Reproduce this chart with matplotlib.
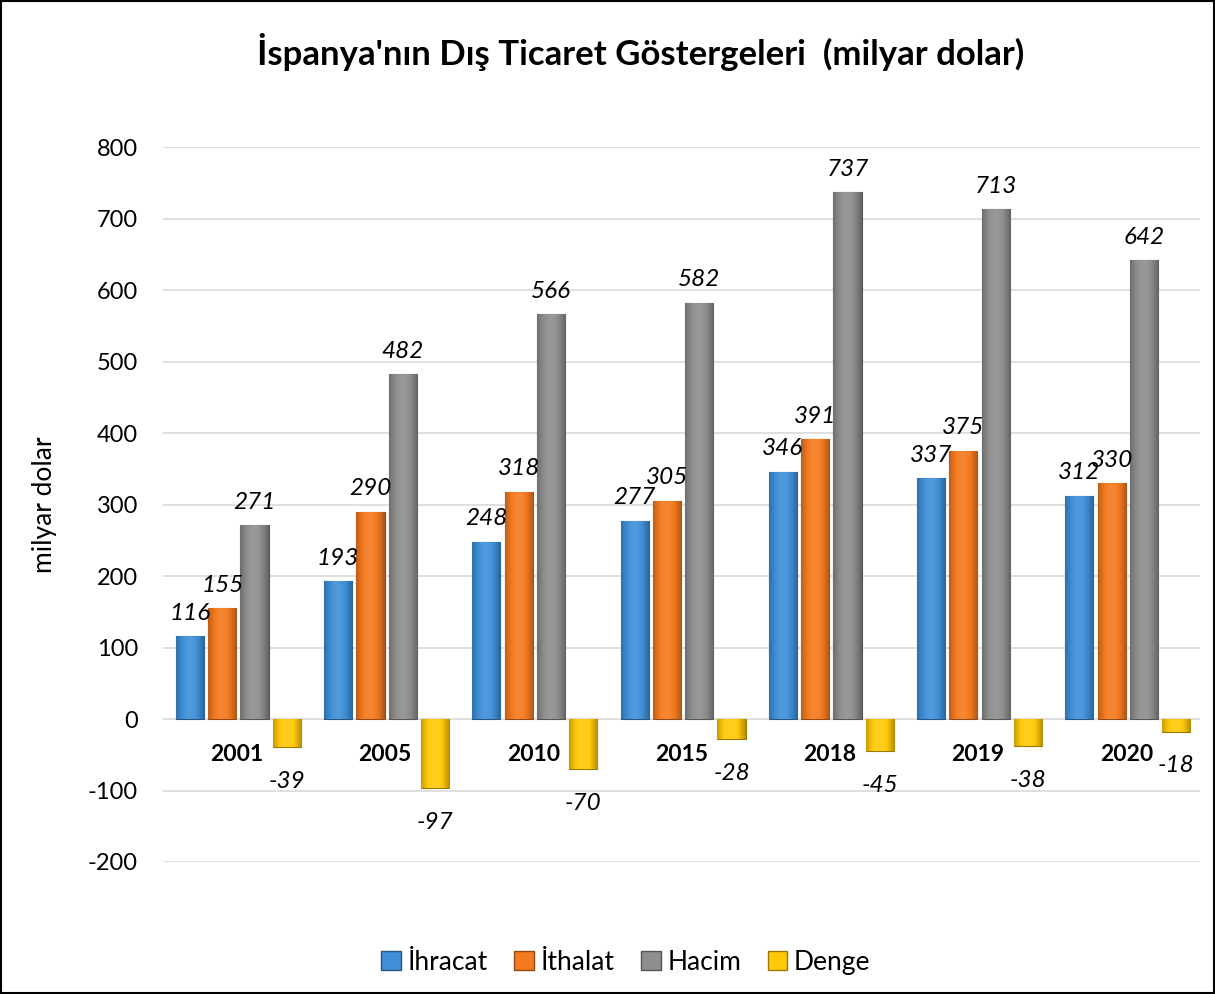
import matplotlib.pyplot as plt
import numpy as np
from matplotlib.colors import to_rgb
from matplotlib.patches import Rectangle

plt.rcParams['font.family'] = ['Lato', 'DejaVu Sans']
plt.rcParams['axes.unicode_minus'] = False

years = ['2001', '2005', '2010', '2015', '2018', '2019', '2020']
ihracat = [116, 193, 248, 277, 346, 337, 312]
ithalat = [155, 290, 318, 305, 391, 375, 330]
hacim = [271, 482, 566, 582, 737, 713, 642]
denge = [-39, -97, -70, -28, -45, -38, -18]

names = ['İhracat', 'İthalat', 'Hacim', 'Denge']
series = [ihracat, ithalat, hacim, denge]
colors = ['#3f8fd8', '#f47a1f', '#8e8e8e', '#ffc90a']


def shade(c, f):
    r = np.array(to_rgb(c))
    if f < 1:
        return tuple(r * f)
    return tuple(r + (1 - r) * (f - 1))


fig = plt.figure(figsize=(12.15, 9.94), dpi=100)
ax = fig.add_axes([0.134, 0.1328, 0.854, 0.7192])

x = np.arange(len(years))
w = 0.19
step = 0.218

for i, (vals, c) in enumerate(zip(series, colors)):
    pos = x + (i - 1.5) * step + 0.01
    bars = ax.bar(pos, vals, w, color=c, edgecolor=shade(c, 0.6), linewidth=0.8, zorder=3)
    # horizontal gradient to mimic the bevel look
    grad = np.linspace(0, 1, 50)
    prof = 0.78 + 0.35 * np.sin(np.pi * grad) - 0.08 * grad
    img = np.array([[shade(c, p) for p in prof]])
    for b in bars:
        x0, y0 = b.get_x(), b.get_y()
        bw, bh = b.get_width(), b.get_height()
        im = ax.imshow(img, extent=[x0, x0 + bw, y0, y0 + bh], aspect='auto',
                       zorder=3.5, interpolation='bilinear')
        im.set_clip_path(b)
    for p, v in zip(pos, vals):
        if v >= 0:
            ax.annotate(str(v), (p, v), xytext=(0, 9), textcoords='offset points',
                        ha='center', va='bottom', fontsize=17.5, style='italic', zorder=5)
        else:
            ax.annotate(str(v), (p, v), xytext=(0, -17), textcoords='offset points',
                        ha='center', va='top', fontsize=17.5, style='italic', zorder=5)

for xi, yr in zip(x, years):
    ax.text(xi, -50, yr, ha='center', va='center', fontsize=16.5,
            fontweight='bold', zorder=5)

ax.set_xlim(-0.5, len(years) - 0.5)
ax.set_ylim(-200, 800)
ax.set_yticks(range(-200, 801, 100))
ax.tick_params(axis='y', length=0, labelsize=17, pad=18)
ax.set_xticks([])
ax.grid(axis='y', color='#d9d9d9', linewidth=1.2, zorder=0)
for s in ax.spines.values():
    s.set_visible(False)
ax.set_ylabel('milyar dolar', fontsize=19, labelpad=22)

fig.text(0.527, 0.948, "İspanya'nın Dış Ticaret Göstergeleri  (milyar dolar)",
         ha='center', va='center', fontsize=25, fontweight='bold')

handles = [Rectangle((0, 0), 1, 1, facecolor=c, edgecolor=shade(c, 0.6)) for c in colors]
fig.legend(handles, names, loc='center', bbox_to_anchor=(0.515, 0.032), ncol=4,
           frameon=False, fontsize=19, handlelength=0.75, handleheight=0.75,
           handletextpad=0.25, columnspacing=1.0)

fig.add_artist(Rectangle((0.001, 0.001), 0.998, 0.998, transform=fig.transFigure,
                         fill=False, edgecolor='black', linewidth=1.5))

fig.savefig('out.png', dpi=100)
